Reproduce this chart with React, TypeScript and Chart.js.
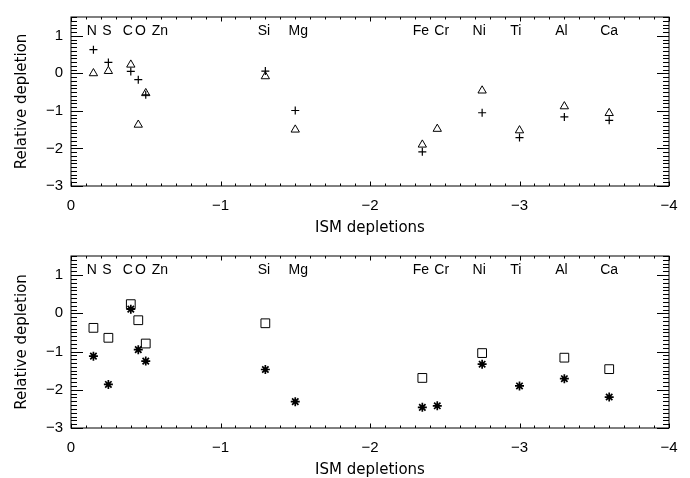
import React, { useEffect, useRef } from "react";
import { Chart, registerables } from "chart.js";

Chart.register(...registerables);

// element order along the ISM depletion axis
const elements = ["N", "S", "C", "O", "Zn", "Si", "Mg", "Fe", "Cr", "Ni", "Ti", "Al", "Ca"];
const ismDepletion = [-0.15, -0.25, -0.4, -0.45, -0.5, -1.3, -1.5, -2.35, -2.45, -2.75, -3.0, -3.3, -3.6];
// where the element names sit (data x), nudged apart where crowded
const labelX = [-0.14, -0.24, -0.38, -0.465, -0.595, -1.29, -1.52, -2.34, -2.48, -2.73, -2.975, -3.28, -3.6];

// top panel
const topPlus = [0.63, 0.29, 0.05, -0.17, -0.57, 0.06, -0.99, -2.09, null, -1.05, -1.71, -1.16, -1.25];
const topTriangle = [0.0, 0.06, 0.23, -1.37, -0.53, -0.08, -1.5, -1.9, -1.48, -0.46, -1.52, -0.88, -1.06];

// bottom panel
const bottomSquare = [-0.38, -0.64, 0.24, -0.18, -0.79, -0.26, null, -1.69, null, -1.04, null, -1.16, -1.46];
const bottomStar = [-1.12, -1.86, 0.11, -0.95, -1.25, -1.47, -2.31, -2.46, -2.42, -1.33, -1.9, -1.71, -2.19];

const xTickValues = [-4, -3, -2, -1, 0];
const xTickLabels = ["\u22124", "\u22123", "\u22122", "\u22121", "0"];
const yTickValues = [-3, -2, -1, 0, 1];
const yTickLabels = ["\u22123", "\u22122", "\u22121", "0", "1"];

const FONT = "'Liberation Sans', Arial, Helvetica, sans-serif";
const TITLE_FONT = "'DejaVu Sans', 'Liberation Sans', sans-serif";
const W = 690;
const H = 239;

type Series = { values: (number | null)[]; style: string; radius: number; width: number };

function points(values: (number | null)[]) {
  return ismDepletion
    .map((x, i) => ({ x, y: values[i] }))
    .filter((p) => p.y !== null);
}

// box round the plot with IDL-style inward ticks on all four sides
const framePlugin = {
  id: "frame",
  afterDraw(chart: any) {
    const { ctx, chartArea: a, scales } = chart;
    const x = scales.x;
    const y = scales.y;
    ctx.save();
    ctx.strokeStyle = "#000";
    ctx.lineWidth = 1;
    ctx.strokeRect(a.left, a.top, a.right - a.left, a.bottom - a.top);
    ctx.beginPath();
    for (let i = -40; i <= 0; i++) {
      const px = Math.round(x.getPixelForValue(i / 10)) + 0.5;
      const len = i % 10 === 0 ? 4.5 : 2.5;
      ctx.moveTo(px, a.bottom);
      ctx.lineTo(px, a.bottom - len);
      ctx.moveTo(px, a.top);
      ctx.lineTo(px, a.top + len);
    }
    for (let i = -30; i <= 15; i++) {
      const py = Math.round(y.getPixelForValue(i / 10)) + 0.5;
      const len = i % 10 === 0 ? 12 : 6;
      ctx.moveTo(a.left, py);
      ctx.lineTo(a.left + len, py);
      ctx.moveTo(a.right, py);
      ctx.lineTo(a.right - len, py);
    }
    ctx.stroke();

    // element names along the top
    ctx.fillStyle = "#000";
    ctx.font = `14px ${FONT}`;
    ctx.textAlign = "center";
    ctx.textBaseline = "middle";
    elements.forEach((el, i) => {
      ctx.fillText(el, x.getPixelForValue(labelX[i]), a.top + 14.5);
    });
    ctx.restore();
  },
};

function Panel({
  series,
  padTop,
  plotBottom,
  titlePad,
}: {
  series: Series[];
  padTop: number;
  plotBottom: number;
  titlePad: number;
}) {
  const canvasRef = useRef<HTMLCanvasElement>(null);

  useEffect(() => {
    if (!canvasRef.current) return;
    const tickFont = { family: FONT, size: 15 };
    const chart = new Chart(canvasRef.current, {
      type: "scatter",
      data: {
        datasets: series.map((s) => ({
          data: points(s.values) as any,
          showLine: false,
          pointStyle: s.style as any,
          pointRadius: s.radius,
          pointHoverRadius: s.radius,
          pointBorderWidth: s.width,
          pointBorderColor: "#000",
          pointBackgroundColor: "rgba(0,0,0,0)",
          borderColor: "#000",
        })),
      },
      options: {
        responsive: false,
        animation: false,
        events: [],
        layout: { padding: { left: 0, right: 21, top: padTop, bottom: 0 } },
        plugins: { legend: { display: false }, tooltip: { enabled: false } },
        scales: {
          x: {
            type: "linear",
            min: -4,
            max: 0,
            reverse: true,
            afterBuildTicks: (s: any) => {
              s.ticks = xTickValues.map((v) => ({ value: v }));
            },
            afterFit: (s: any) => {
              s.height = H - plotBottom;
            },
            grid: { display: false, drawTicks: false },
            border: { display: false },
            ticks: {
              color: "#000",
              font: tickFont,
              padding: 11,
              maxRotation: 0,
              autoSkip: false,
              callback: (v: any) => xTickLabels[xTickValues.indexOf(Number(v))] ?? "",
            },
            title: {
              display: true,
              text: "ISM depletions",
              color: "#000",
              font: { family: TITLE_FONT, size: 15, lineHeight: 1 },
              padding: { top: 0, bottom: titlePad },
            },
          },
          y: {
            type: "linear",
            min: -3,
            max: 1.5,
            afterBuildTicks: (s: any) => {
              s.ticks = yTickValues.map((v) => ({ value: v }));
            },
            afterFit: (s: any) => {
              s.width = 71;
            },
            grid: { display: false, drawTicks: false },
            border: { display: false },
            ticks: {
              color: "#000",
              font: tickFont,
              padding: 8,
              autoSkip: false,
              callback: (v: any) => yTickLabels[yTickValues.indexOf(Number(v))] ?? "",
            },
            title: {
              display: true,
              text: "Relative depletion",
              color: "#000",
              font: { family: TITLE_FONT, size: 15, lineHeight: 1 },
              padding: { top: 14.5, bottom: 0 },
            },
          },
        },
      },
      plugins: [framePlugin],
    });
    return () => chart.destroy();
  }, [series, padTop, plotBottom, titlePad]);

  return <canvas ref={canvasRef} width={W} height={H} style={{ display: "block" }} />;
}

const topSeries: Series[] = [
  { values: topPlus, style: "cross", radius: 4, width: 1.2 },
  { values: topTriangle, style: "triangle", radius: 4.8, width: 1 },
];

const bottomSeries: Series[] = [
  { values: bottomSquare, style: "rect", radius: 6.2, width: 1 },
  { values: bottomStar, style: "star", radius: 4.5, width: 1.7 },
];

export default function App() {
  return (
    <div style={{ position: "absolute", left: 0, top: 0, width: W, height: 2 * H, background: "#fff" }}>
      <Panel series={topSeries} padTop={8} plotBottom={186} titlePad={3} />
      <Panel series={bottomSeries} padTop={10} plotBottom={189} titlePad={0} />
    </div>
  );
}
